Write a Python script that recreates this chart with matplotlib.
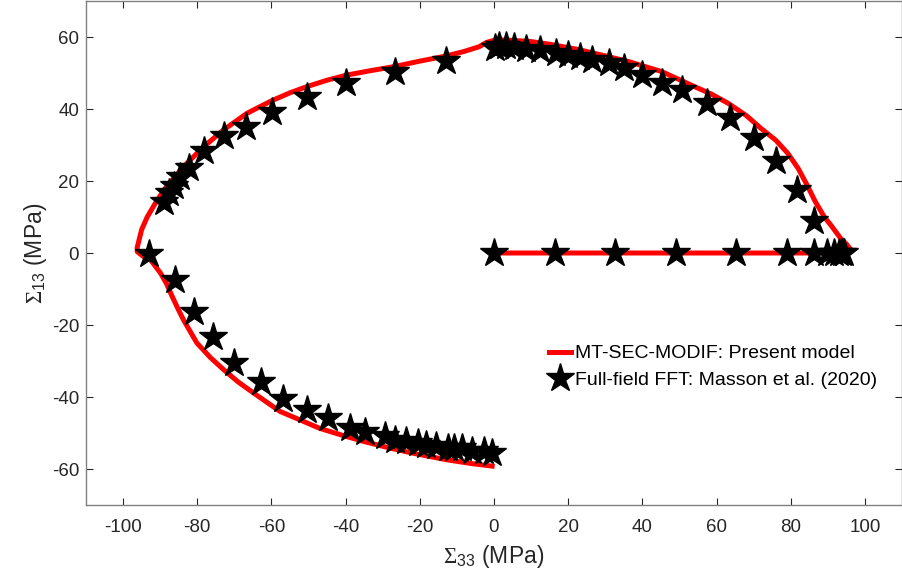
import matplotlib
matplotlib.use('Agg')
import matplotlib.pyplot as plt

# MT-SEC-MODIF model curve (Sigma_33, Sigma_13) in MPa
model_s33 = [0, 20, 40, 60, 80, 90, 95, 96.5, 95, 93.5, 91, 89, 86.5, 84.6, 82, 79.2, 76, 72, 68,
             63.1, 58.5, 54.1, 45.2, 36.2, 29, 22.8, 15, 9.4, 4, 0.5, -2, -4, -8, -13, -20, -26.8,
             -33, -39.8, -45, -50.5, -55, -59.5, -63, -66.6, -72.9, -78.3, -83.7, -89, -91.5, -93.5,
             -95, -95.7, -96.2, -96.2, -94.5, -92.6, -89.9, -88.3, -86.8, -85.2, -83.7, -81.8, -80.1,
             -76.5, -72.9, -69, -64.8, -57.7, -52, -47, -41, -35.3, -28, -21.9, -13, -6, -0.5]
model_s13 = [0, 0, 0, 0, 0, 0, 0, 0.5, 2.5, 4, 7.5, 10.1, 14.5, 18.5, 23.5, 27.7, 31.3, 34.6, 38.2,
             41.6, 44.2, 46.2, 50.4, 53.2, 55, 56.5, 58, 58.8, 59.1, 59.2, 58.5, 57.3, 56, 54.7, 53.3, 51.8,
             50.7, 49.4, 48, 46.2, 44.5, 42.5, 40.7, 38.8, 34.2, 29.5, 24, 17.5, 13.5, 10,
             6.5, 3.6, 1.5, 0.4, -1, -1.9, -5.6, -8.5, -12, -15.5, -18.6, -22, -25,
             -29, -32.4, -35.8, -38.9, -44, -46.5, -48.7, -50.6, -52.3, -54.2, -55.6, -57.4, -58.5, -59.2]

# Full-field FFT reference points (Masson et al. 2020)
fft_s33 = [0.1, 16.4, 32.5, 49.1, 65.2, 79.1, 86.2, 89.8, 91.6, 92.9, 93.8, 94.3,
           86.2, 81.7, 76.1, 70.2, 63.7, 57.3, 50.8, 45.2, 39.8, 35.1, 30.9, 26.4, 23.3, 20, 16.6,
           12.5, 8.5, 5.4, 3.3, 1.3, 0.3,
           -13, -26.8, -39.8, -50.3, -59.8, -66.8, -72.9, -78.1, -82.3, -84.6, -86.4, -87.7, -89,
           -93, -85.9, -80.8, -75.8, -70, -62.9, -56.8, -50.3, -44.7, -38.7, -34.9, -29.5, -26.8,
           -23.7, -20.6, -18.3, -15.7, -12.5, -10.7, -8.7, -5.8, -2.7, -0.5]
fft_s13 = [0, 0, 0, 0, 0, 0, 0, 0, 0, 0, 0, 0,
           8.8, 17.6, 25.5, 31.9, 37.4, 41.6, 45.3, 47.3, 49.4, 51.3, 52.7, 53.6, 54.5, 55, 55.6,
           56.4, 56.8, 57.3, 57.5, 57.5, 57.0,
           53.2, 50.4, 47.1, 43.2, 39.1, 35.1, 32.4, 28.2, 23.5, 21.2, 18.5, 16.6, 14.3,
           -0.3, -7.4, -16.5, -23.3, -30.6, -35.7, -40.6, -43.5, -45.9, -48.7, -49.6, -50.9, -51.9,
           -52.3, -52.8, -53.2, -53.7, -54.2, -54.2, -54.2, -55.1, -55.1, -55.5]

x_ticks = [-100, -80, -60, -40, -20, 0, 20, 40, 60, 80, 100]
y_ticks = [-60, -40, -20, 0, 20, 40, 60]

plt.rcParams['font.family'] = ['Liberation Sans', 'DejaVu Sans']
plt.rcParams['axes.unicode_minus'] = False
plt.rcParams['mathtext.fontset'] = 'custom'
plt.rcParams['mathtext.rm'] = 'Liberation Serif'
plt.rcParams['mathtext.sf'] = 'Liberation Sans'

fig = plt.figure(figsize=(9.03, 5.79), dpi=100)
ax = fig.add_axes([86 / 903, 74 / 579, 816 / 903, 504 / 579])

ax.plot(model_s33, model_s13, color='#ff0000', lw=3.6, label='MT-SEC-MODIF: Present model')
ax.plot(fft_s33, fft_s13, ls='none', marker='*', ms=21, color='black',
        label='Full-field FFT: Masson et al. (2020)')

ax.set_xlim(-110, 110)
ax.set_ylim(-70, 70)
ax.set_xticks(x_ticks)
ax.set_yticks(y_ticks)
ax.tick_params(direction='in', top=True, right=True, length=5, width=0.8,
               labelsize=13.5, colors='#262626')
ax.tick_params(axis='x', pad=10)
ax.tick_params(axis='y', pad=5)
for lab in ax.get_xticklabels() + ax.get_yticklabels():
    lab.set_family(['Liberation Sans Narrow', 'Liberation Sans'])
for s in ax.spines.values():
    s.set_color('#808080')
    s.set_linewidth(1.0)

ax.set_xlabel(r'$\Sigma_{\mathsf{33}}$ (MPa)', fontsize=16.5, color='#262626', labelpad=5)
ax.set_ylabel(r'$\Sigma_{\mathsf{13}}$ (MPa)', fontsize=16.5, color='#262626', labelpad=2)

ax.legend(loc='upper left', bbox_to_anchor=(0.568, 0.318), frameon=False, fontsize=14,
          handlelength=1.1, handletextpad=0.2, labelspacing=0.45, borderpad=0, borderaxespad=0)

fig.savefig('out.png', dpi=100)
plt.close(fig)
